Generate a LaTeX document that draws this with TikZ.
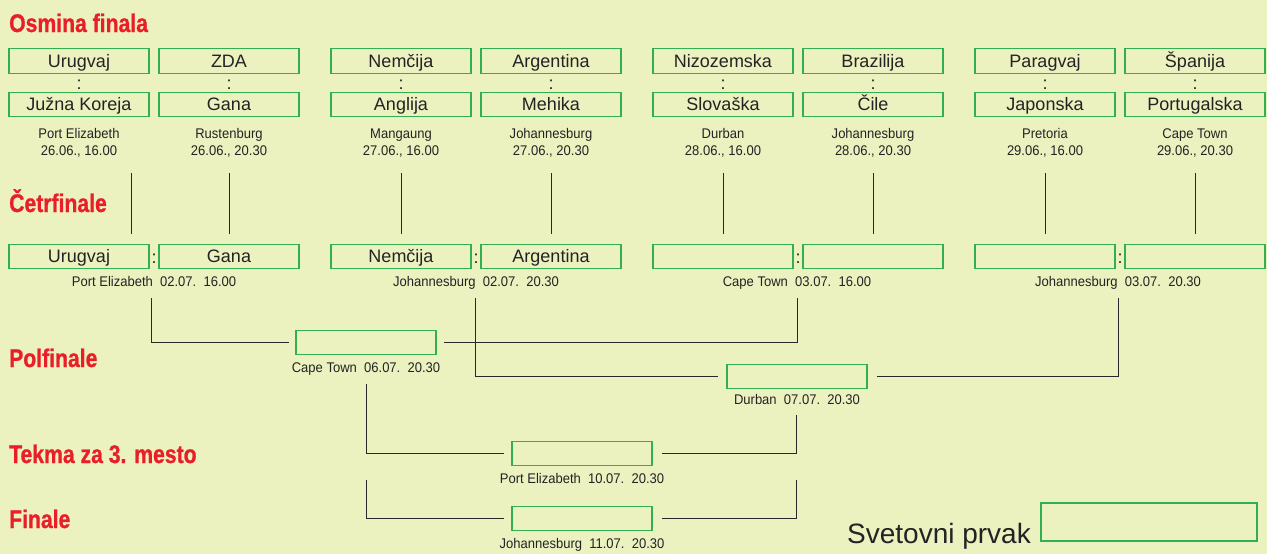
\documentclass[tikz,border=0pt]{standalone}
\usepackage{fontspec}
\setmainfont{Liberation Sans}
\newfontfamily\headfam[FakeStretch=0.83,FakeBold=0.8]{Liberation Sans}
\newfontfamily\narrowfam[FakeStretch=0.93]{Liberation Sans}
\definecolor{bgcol}{RGB}{236,241,192}
\definecolor{boxgreen}{RGB}{50,175,80}
\definecolor{headred}{RGB}{232,30,40}
\definecolor{darktext}{RGB}{35,35,35}
\definecolor{linecol}{RGB}{40,40,40}
\newcommand\teamfont{\fontsize{18}{18}\selectfont}
\newcommand\venuefont{\narrowfam\fontsize{14}{14}\selectfont}
\newcommand\headfont{\headfam\bfseries\fontsize{25.5}{25.5}\selectfont}
\tikzset{
  teambox/.style={draw=boxgreen, line width=1.3pt, minimum width=140pt, minimum height=24.5pt,
    inner sep=0pt, font=\teamfont, text=darktext, text height=12.9pt, text depth=0pt},
  colonlbl/.style={anchor=base, inner sep=0pt, font=\teamfont, text=darktext},
  venuelbl/.style={anchor=base, inner sep=0pt, font=\venuefont, text=darktext},
  headlbl/.style={anchor=base west, inner sep=0pt, font=\headfont, text=headred},
  bracket/.style={draw=linecol, line width=1pt},
}
\newcommand\osmina[6]{%
  \node[teambox] (#1a) at (#2,61) {#3};
  \node[teambox] (#1b) at (#2,104.5) {#4};
  \node[colonlbl] (#1c) at (#2,89) {:};
  \node[venuelbl] (#1v) at (#2,138) {#5};
  \node[venuelbl] (#1d) at (#2,155) {#6};
}
\begin{document}
\begin{tikzpicture}[x=1pt,y=-1pt]
\useasboundingbox (0,0) rectangle (1267,554);
\fill[bgcol] (0,0) rectangle (1267,554);

% headings
\node[headlbl] (h1) at (9,32) {Osmina finala};
\node[headlbl] (h2) at (9,212) {Četrfinale};
\node[headlbl] (h3) at (9,367) {Polfinale};
\node[headlbl] (h4) at (9,463) {Tekma za 3. mesto};
\node[headlbl] (h5) at (9,528) {Finale};

% round of 16
\osmina{m1}{79}{Urugvaj}{Južna Koreja}{Port Elizabeth}{26.06., 16.00}
\osmina{m2}{229}{ZDA}{Gana}{Rustenburg}{26.06., 20.30}
\osmina{m3}{401}{Nemčija}{Anglija}{Mangaung}{27.06., 16.00}
\osmina{m4}{551}{Argentina}{Mehika}{Johannesburg}{27.06., 20.30}
\osmina{m5}{723}{Nizozemska}{Slovaška}{Durban}{28.06., 16.00}
\osmina{m6}{873}{Brazilija}{Čile}{Johannesburg}{28.06., 20.30}
\osmina{m7}{1045}{Paragvaj}{Japonska}{Pretoria}{29.06., 16.00}
\osmina{m8}{1195}{Španija}{Portugalska}{Cape Town}{29.06., 20.30}

% quarterfinal boxes
\node[teambox] (q1a) at (79,256.5) {Urugvaj};
\node[teambox] (q1b) at (229,256.5) {Gana};
\node[teambox] (q2a) at (401,256.5) {Nemčija};
\node[teambox] (q2b) at (551,256.5) {Argentina};
\node[teambox] (q3a) at (723,256.5) {};
\node[teambox] (q3b) at (873,256.5) {};
\node[teambox] (q4a) at (1045,256.5) {};
\node[teambox] (q4b) at (1195,256.5) {};
\node[colonlbl] (q1c) at (154,263) {:};
\node[colonlbl] (q2c) at (476,263) {:};
\node[colonlbl] (q3c) at (798,263) {:};
\node[colonlbl] (q4c) at (1120,263) {:};
\node[venuelbl] (q1l) at (154,286) {Port Elizabeth\ \ 02.07.\ \ 16.00};
\node[venuelbl] (q2l) at (476,286) {Johannesburg\ \ 02.07.\ \ 20.30};
\node[venuelbl] (q3l) at (797,286) {Cape Town\ \ 03.07.\ \ 16.00};
\node[venuelbl] (q4l) at (1118,286) {Johannesburg\ \ 03.07.\ \ 20.30};

% round of 16 -> quarterfinal lines
\foreach \n/\x in {1/131,2/229,3/401,4/551,5/723,6/873,7/1045,8/1195}{
  \coordinate (v\n t) at (\x,173);
  \coordinate (v\n b) at (\x,234);
  \draw[bracket] (v\n t) -- (v\n b);
}

% semifinals
\node[teambox] (s1) at (366,342.5) {};
\node[teambox] (s2) at (797,376.5) {};
\node[venuelbl] (s1l) at (366,372) {Cape Town\ \ 06.07.\ \ 20.30};
\node[venuelbl] (s2l) at (797,404) {Durban\ \ 07.07.\ \ 20.30};

\coordinate (q1o) at (151,298);
\coordinate (q3o) at (797,298);
\coordinate (q2o) at (475,298);
\coordinate (q4o) at (1118,298);
\draw[bracket] (q1o) |- ([xshift=-6pt]s1.west);
\draw[bracket] (q3o) |- ([xshift=7pt]s1.east);
\draw[bracket] (q2o) |- ([xshift=-8pt]s2.west);
\draw[bracket] (q4o) |- ([xshift=9pt]s2.east);

% third place
\node[teambox] (t3) at (582,453.5) {};
\node[venuelbl] (t3l) at (582,483) {Port Elizabeth\ \ 10.07.\ \ 20.30};
\coordinate (s1o) at (366,384);
\coordinate (s2o) at (796,415);
\draw[bracket] (s1o) |- ([xshift=-7pt]t3.west);
\draw[bracket] (s2o) |- ([xshift=9pt]t3.east);

% final
\node[teambox] (fi) at (582,518.5) {};
\node[venuelbl] (fil) at (582,548) {Johannesburg\ \ 11.07.\ \ 20.30};
\coordinate (f1o) at (366,480);
\coordinate (f2o) at (796,480);
\draw[bracket] (f1o) |- ([xshift=-7pt]fi.west);
\draw[bracket] (f2o) |- ([xshift=9pt]fi.east);

% champion
\node[anchor=base west, inner sep=0pt, font=\fontsize{28}{28}\selectfont, text=darktext] (sp) at (847,543) {Svetovni prvak};
\node[draw=boxgreen, line width=1.3pt, minimum width=216pt, minimum height=38pt, inner sep=0pt] (spb) at (1149,522) {};
\end{tikzpicture}
\end{document}
